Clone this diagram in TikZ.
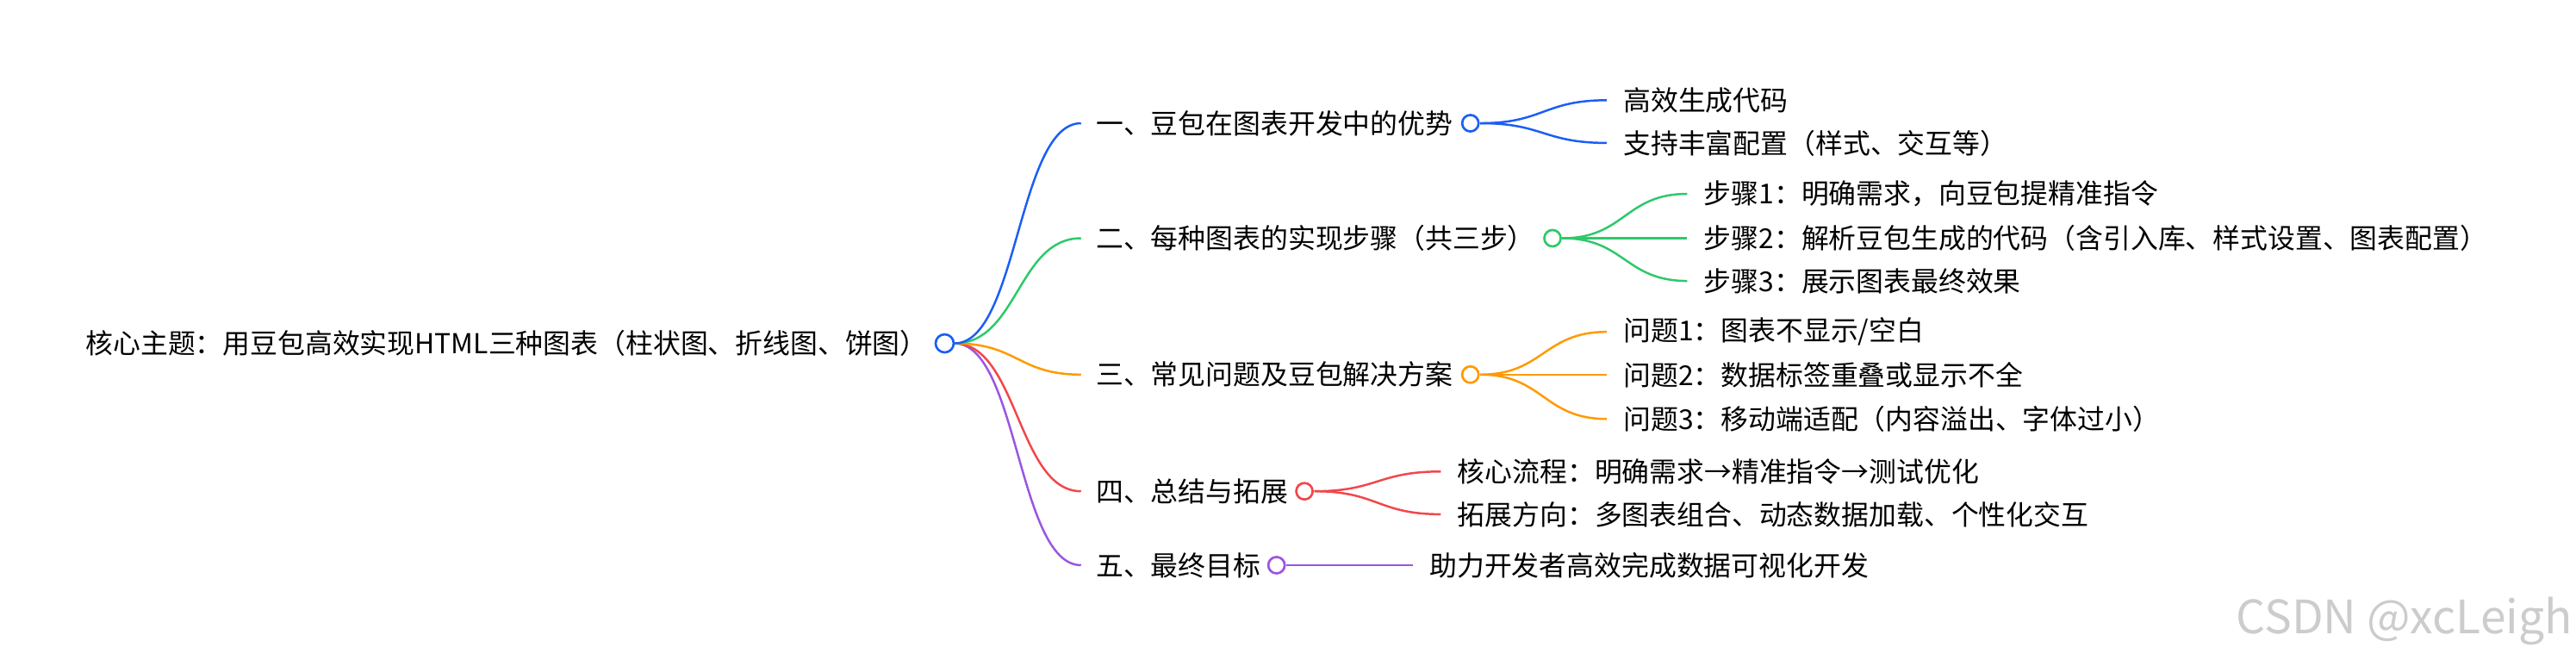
\documentclass[tikz,border=0pt]{standalone}
\usepackage{fontspec}
\setmainfont{Noto Sans CJK SC}
\usetikzlibrary{calc}
\definecolor{cb}{HTML}{1B5EF5}
\definecolor{cg}{HTML}{2DC96A}
\definecolor{co}{HTML}{FF9A00}
\definecolor{cr}{HTML}{F2474B}
\definecolor{cp}{HTML}{9B55E0}
\begin{document}
\begin{tikzpicture}[x=1pt,y=-1pt,
  txt/.style={anchor=west,inner sep=0pt,font=\fontsize{16.7}{19}\selectfont},
  dot/.style={circle,draw=#1,fill=white,line width=1.4pt,minimum size=11pt,inner sep=0pt},
  br/.style={draw=#1,line width=1.3pt}]
\useasboundingbox (0,0) rectangle (1568,405);
\newcommand{\cv}[3]{\draw[br=#1] let \p1=(#2), \p2=(#3) in (\p1) .. controls ({(\x1+\x2)/2},\y1) and ({(\x1+\x2)/2},\y2) .. (\p2);}
% root
\node[txt] (root) at (52,209) {核心主题：用豆包高效实现HTML三种图表（柱状图、折线图、饼图）};
% level 1 texts
\node[txt] (a) at (667,75) {一、豆包在图表开发中的优势};
\node[txt] (b) at (667,145) {二、每种图表的实现步骤（共三步）};
\node[txt] (c) at (667,228) {三、常见问题及豆包解决方案};
\node[txt] (d) at (667,299) {四、总结与拓展};
\node[txt] (e) at (667,344) {五、最终目标};
% children
\node[txt] (a1) at (988,61) {高效生成代码};
\node[txt] (a2) at (988,87) {支持丰富配置（样式、交互等）};
\node[txt] (b1) at (1037,118) {步骤1：明确需求，向豆包提精准指令};
\node[txt] (b2) at (1037,145) {步骤2：解析豆包生成的代码（含引入库、样式设置、图表配置）};
\node[txt] (b3) at (1037,171) {步骤3：展示图表最终效果};
\node[txt] (c1) at (988,202) {问题1：图表不显示/空白};
\node[txt] (c2) at (988,228) {问题2：数据标签重叠或显示不全};
\node[txt] (c3) at (988,255) {问题3：移动端适配（内容溢出、字体过小）};
\node[txt] (d1) at (887,287) {核心流程：明确需求→精准指令→测试优化};
\node[txt] (d2) at (887,313) {拓展方向：多图表组合、动态数据加载、个性化交互};
\node[txt] (e1) at (870,344) {助力开发者高效完成数据可视化开发};
% coordinates
\coordinate (r0) at (581,209);
\foreach \n in {a,b,c,d,e} {\coordinate (\n x) at ([xshift=-9pt]\n.west);}
\foreach \n in {a1,a2,b1,b2,b3,c1,c2,c3,d1,d2,e1} {\coordinate (\n x) at ([xshift=-10pt]\n.west);}
% root branches
\cv{cp}{r0}{ex}
\cv{cr}{r0}{dx}
\cv{co}{r0}{cx}
\cv{cg}{r0}{bx}
\cv{cb}{r0}{ax}
% child branches
\coordinate (ad0) at (901,75);
\cv{cb}{ad0}{a1x} \cv{cb}{ad0}{a2x}
\coordinate (bd0) at (951,145);
\cv{cg}{bd0}{b1x} \cv{cg}{bd0}{b2x} \cv{cg}{bd0}{b3x}
\coordinate (cd0) at (901,228);
\cv{co}{cd0}{c1x} \cv{co}{cd0}{c2x} \cv{co}{cd0}{c3x}
\coordinate (dd0) at (800,299);
\cv{cr}{dd0}{d1x} \cv{cr}{dd0}{d2x}
\coordinate (ed0) at (783,344);
\draw[br=cp] (ed0) -- (e1x);
% dots
\node[dot=cb] (rd) at (575,209) {};
\node[dot=cb,minimum size=10pt] (adn) at (895,75) {};
\node[dot=cg,minimum size=10pt] (bdn) at (945,145) {};
\node[dot=co,minimum size=10pt] (cdn) at (895,228) {};
\node[dot=cr,minimum size=10pt] (ddn) at (794,299) {};
\node[dot=cp,minimum size=10pt] (edn) at (777,344) {};
% watermark
\node[anchor=east,inner sep=0pt,text=black!20,font=\fontsize{28}{30}\selectfont] (wm) at (1566,378) {CSDN @xcLeigh};
\end{tikzpicture}
\end{document}
